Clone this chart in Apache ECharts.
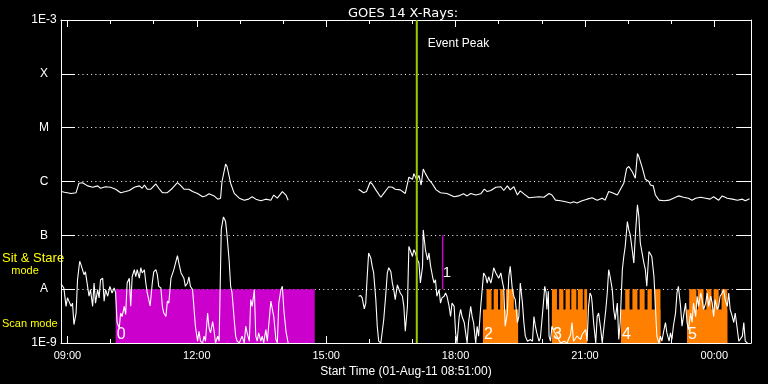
<!DOCTYPE html>
<html><head><meta charset="utf-8">
<script src="https://cdn.jsdelivr.net/npm/echarts@6/dist/echarts.min.js"></script>
<style>html,body{margin:0;padding:0;background:#000;}#c{width:768px;height:384px;}</style>
</head><body><div id="c"></div>
<script>
// ---------- text ----------
const chartTitle = 'GOES 14 X-Rays:';
const xAxisName = 'Start Time (01-Aug-11 08:51:00)';
const modeLabelsTop = ['Sit & Stare', 'mode'];
const modeLabelBottom = 'Scan mode';
const eventPeakLabel = 'Event Peak';

// ---------- axes ----------
const timeRange = ['08:51', '00:51'];
const majorTicks = ['09:00', '12:00', '15:00', '18:00', '21:00', '00:00'];
const minorTicks = ['10:00', '11:00', '13:00', '14:00', '16:00', '17:00', '19:00', '20:00', '22:00', '23:00'];
const yLevels = [1e-9, 1e-8, 1e-7, 1e-6, 1e-5, 1e-4, 1e-3];
const yLabels = ['1E-9', 'A', 'B', 'C', 'M', 'X', '1E-3'];

// ---------- long channel (1-8 A), W/m^2 ----------
const longChannel1 = [["08:51",6.5e-7],["08:56",6.3e-7],["09:05",6.0e-7],["09:12",6.2e-7],["09:16",9.3e-7],["09:21",9.5e-7],["09:28",8.3e-7],["09:35",7.8e-7],["09:42",8.3e-7],["09:46",7.5e-7],["09:53",8.0e-7],["10:00",7.8e-7],["10:07",7.2e-7],["10:14",6.2e-7],["10:21",6.5e-7],["10:26",6.8e-7],["10:33",7.8e-7],["10:40",8.3e-7],["10:44",7.5e-7],["10:47",8.6e-7],["10:51",7.2e-7],["10:56",7.2e-7],["11:03",9.0e-7],["11:07",7.5e-7],["11:12",6.2e-7],["11:19",6.2e-7],["11:26",7.5e-7],["11:33",9.5e-7],["11:38",8.3e-7],["11:42",7.2e-7],["11:49",7.2e-7],["11:54",6.5e-7],["12:01",6.0e-7],["12:08",5.2e-7],["12:12",5.4e-7],["12:17",5.9e-7],["12:24",5.4e-7],["12:29",4.7e-7],["12:33",4.9e-7],["12:35",1.0e-6],["12:40",2.1e-6],["12:42",1.9e-6],["12:47",9.3e-7],["12:52",6.0e-7],["12:59",4.9e-7],["13:06",4.5e-7],["13:12",4.7e-7],["13:17",5.2e-7],["13:22",4.7e-7],["13:29",4.4e-7],["13:36",4.7e-7],["13:43",4.5e-7],["13:47",5.6e-7],["13:52",4.9e-7],["13:59",6.5e-7],["14:04",5.6e-7],["14:07",4.5e-7]];
const longChannel2 = [["15:45",7.2e-7],["15:52",6.2e-7],["15:56",6.5e-7],["16:01",9.7e-7],["16:04",9.0e-7],["16:09",7.0e-7],["16:16",5.1e-7],["16:20",6.0e-7],["16:27",8.0e-7],["16:32",7.8e-7],["16:36",7.2e-7],["16:43",7.0e-7],["16:50",6.0e-7],["16:55",1.2e-6],["17:00",1.1e-6],["17:02",1.4e-6],["17:06",1.07e-6],["17:09",1.3e-6],["17:12",8.6e-7],["17:15",1.7e-6],["17:18",1.4e-6],["17:23",1.07e-6],["17:27",9.3e-7],["17:33",7.0e-7],["17:39",6.2e-7],["17:48",6.0e-7],["17:58",5.2e-7],["18:04",5.4e-7],["18:11",5.9e-7],["18:16",5.4e-7],["18:21",6.0e-7],["18:28",5.6e-7],["18:35",5.9e-7],["18:40",7.2e-7],["18:44",6.5e-7],["18:49",6.8e-7],["18:56",7.8e-7],["19:03",8.0e-7],["19:07",6.8e-7],["19:12",8.3e-7],["19:16",7.0e-7],["19:21",8.0e-7],["19:26",5.6e-7],["19:30",6.7e-7],["19:35",5.9e-7],["19:42",5.0e-7],["19:49",5.1e-7],["19:56",5.2e-7],["20:03",5.1e-7],["20:10",6.0e-7],["20:12",6.5e-7],["20:14",5.6e-7],["20:19",4.5e-7],["20:26",4.4e-7],["20:33",4.2e-7],["20:40",4.0e-7],["20:44",4.2e-7],["20:49",4.0e-7],["20:56",4.4e-7],["21:03",4.7e-7],["21:10",5.0e-7],["21:17",4.5e-7],["21:24",4.9e-7],["21:28",4.5e-7],["21:33",6.5e-7],["21:38",6.2e-7],["21:45",5.6e-7],["21:49",7.0e-7],["21:54",9.3e-7],["21:58",1.75e-6],["22:01",1.9e-6],["22:06",1.5e-6],["22:10",1.15e-6],["22:13",3.3e-6],["22:15",2.9e-6],["22:20",1.75e-6],["22:24",1.1e-6],["22:29",1.0e-6],["22:31",8.6e-7],["22:35",8.3e-7],["22:38",5.6e-7],["22:43",4.5e-7],["22:50",4.4e-7],["22:57",4.5e-7],["23:03",4.9e-7],["23:10",5.4e-7],["23:17",5.1e-7],["23:24",4.9e-7],["23:29",4.5e-7],["23:34",4.9e-7],["23:41",5.1e-7],["23:48",4.9e-7],["23:54",4.7e-7],["23:59",5.2e-7],["00:06",4.5e-7],["00:11",5.4e-7],["00:18",4.9e-7],["00:25",4.7e-7],["00:32",4.5e-7],["00:39",4.7e-7],["00:43",4.4e-7],["00:49",4.8e-7]];

// ---------- short channel (0.5-4 A), W/m^2 ----------
const shortChannel1 = [["08:51",1.26e-8],["08:53",1.16e-8],["08:55",1.05e-8],["08:58",4.8e-9],["09:00",6.9e-9],["09:02",6.0e-9],["09:05",4.8e-9],["09:07",5.5e-9],["09:09",2.2e-9],["09:12",3.6e-9],["09:14",1.5e-8],["09:17",3.3e-8],["09:19",2.8e-8],["09:23",1.86e-8],["09:25",2.1e-8],["09:28",1.13e-8],["09:30",7.4e-9],["09:32",9.8e-9],["09:35",4.8e-9],["09:37",1.3e-8],["09:39",5.5e-9],["09:42",9.8e-9],["09:44",6.9e-9],["09:46",1.5e-8],["09:49",1.6e-8],["09:51",6.0e-9],["09:53",9.8e-9],["09:56",7.4e-9],["09:59",1.13e-8],["10:02",8.5e-9],["10:05",1.05e-8],["10:07",8.5e-9],["10:09",2.4e-9],["10:12",1.9e-9],["10:14",3.6e-9],["10:16",3.1e-9],["10:19",4.8e-9],["10:21",3.4e-9],["10:23",1.3e-8],["10:26",1.6e-8],["10:28",4.8e-9],["10:30",1.7e-8],["10:33",2.3e-8],["10:35",1.7e-8],["10:37",2.3e-8],["10:40",1.6e-8],["10:42",2.5e-8],["10:44",2.0e-8],["10:47",2.3e-8],["10:49",1.3e-8],["10:51",8.5e-9],["10:55",4.9e-9],["10:58",1.3e-8],["11:00",2.1e-8],["11:03",2.3e-8],["11:05",1.86e-8],["11:07",1.13e-8],["11:10",1.05e-8],["11:12",4.8e-9],["11:14",3.6e-9],["11:17",3.1e-9],["11:19",6.0e-9],["11:21",5.5e-9],["11:24",1.6e-8],["11:28",2.3e-8],["11:33",4.2e-8],["11:35",3.05e-8],["11:38",2.0e-8],["11:42",1.6e-8],["11:44",1.13e-8],["11:47",1.3e-8],["11:49",1.7e-8],["11:51",1.13e-8],["11:54",9.8e-9],["11:56",4.5e-9],["11:58",2.05e-9],["12:01",1.08e-9],["12:03",1.65e-9],["12:05",1.08e-9],["12:08",1.0e-9],["12:10",1.34e-9],["12:12",1.08e-9],["12:15",3.6e-9],["12:17",1.9e-9],["12:19",1.54e-9],["12:22",2.5e-9],["12:24",1.65e-9],["12:26",1.0e-9],["12:29",1.34e-9],["12:31",1.08e-9],["12:33",1.0e-9],["12:34",1.3e-7],["12:37",2.2e-7],["12:40",1.8e-7],["12:42",1.0e-7],["12:45",3.3e-8],["12:47",1.13e-8],["12:49",8.5e-9],["12:52",2.7e-9],["12:54",1.34e-9],["12:56",1.08e-9],["12:59",1.0e-9],["13:01",1.16e-9],["13:03",1.34e-9],["13:06",1.0e-9],["13:08",2.05e-9],["13:10",1.54e-9],["13:13",1.08e-9],["13:15",6.4e-9],["13:17",4.8e-9],["13:20",9.8e-9],["13:22",1.34e-9],["13:24",1.08e-9],["13:26",1.54e-9],["13:29",1.08e-9],["13:31",1.34e-9],["13:33",1.0e-9],["13:36",1.78e-9],["13:38",1.08e-9],["13:40",1.0e-9],["13:43",6.0e-9],["13:45",6.4e-9],["13:47",3.1e-9],["13:50",1.16e-9],["13:52",1.0e-9],["13:54",5.5e-9],["13:57",9.8e-9],["13:59",1.13e-8],["14:01",4.2e-9],["14:04",1.65e-9],["14:06",1.78e-9],["14:07",1.0e-9]];
const shortChannel2 = [["15:45",7.4e-9],["15:48",7.6e-9],["15:50",6.9e-9],["15:51",6.4e-9],["15:53",4.3e-9],["15:55",5.5e-9],["15:57",1.7e-8],["15:59",4.7e-8],["16:02",3.8e-8],["16:04",2.65e-8],["16:06",2.0e-8],["16:09",6.4e-9],["16:11",2.05e-9],["16:13",1.08e-9],["16:16",1.0e-9],["16:18",1.08e-9],["16:20",2.7e-9],["16:23",8.5e-9],["16:25",2.0e-8],["16:27",2.5e-8],["16:30",2.1e-8],["16:32",1.3e-8],["16:34",9.8e-9],["16:36",6.4e-9],["16:39",1.2e-8],["16:41",1.3e-8],["16:43",8.5e-9],["16:46",7.4e-9],["16:48",4.8e-9],["16:50",1.65e-9],["16:53",4.8e-9],["16:55",6.2e-8],["16:57",6.7e-8],["17:00",4.05e-8],["17:02",5.4e-8],["17:04",4.7e-8],["17:07",3.5e-8],["17:09",3.05e-8],["17:11",1.3e-8],["17:14",2.65e-8],["17:15",1.26e-7],["17:17",7.2e-8],["17:18",5.4e-8],["17:21",3.5e-8],["17:23",4.7e-8],["17:25",2.8e-8],["17:28",1.7e-8],["17:30",1.3e-8],["17:32",1.5e-8],["17:34",7.4e-9],["17:37",9.8e-9],["17:39",5.5e-9],["17:41",6.9e-9],["17:44",7.4e-9],["17:46",8.5e-9],["17:48",7.4e-9],["17:51",4.8e-9],["17:53",3.1e-9],["17:55",5.5e-9],["17:58",4.8e-9],["18:00",1.54e-9],["18:02",1.0e-9],["18:05",3.1e-9],["18:07",4.2e-9],["18:09",3.1e-9],["18:12",2.4e-9],["18:14",1.54e-9],["18:16",1.0e-9],["18:18",2.4e-9],["18:21",4.8e-9],["18:23",3.1e-9],["18:25",2.4e-9],["18:28",1.0e-9],["18:30",2.05e-9],["18:32",1.34e-9],["18:35",4.8e-9],["18:37",9.8e-9],["18:39",2.0e-8],["18:42",1.7e-8],["18:44",1.3e-8],["18:46",1.7e-8],["18:49",1.3e-8],["18:51",1.7e-8],["18:53",2.5e-8],["18:56",2.0e-8],["18:58",1.86e-8],["19:00",1.6e-8],["19:03",2.0e-8],["19:05",1.4e-8],["19:07",1.05e-8],["19:09",2.05e-9],["19:12",3.6e-9],["19:14",1.7e-8],["19:16",2.65e-8],["19:19",9.8e-9],["19:21",7.4e-9],["19:23",6.4e-9],["19:26",2.4e-9],["19:28",3.1e-9],["19:30",1.3e-8],["19:33",5.5e-9],["19:35",2.4e-9],["19:37",1.34e-9],["19:40",1.08e-9],["19:42",1.0e-9],["19:44",1.16e-9],["19:47",1.08e-9],["19:49",3.1e-9],["19:51",2.05e-9],["19:53",1.54e-9],["19:56",1.08e-9],["19:58",1.25e-9],["20:00",1.16e-9],["20:03",7.4e-9],["20:04",1.13e-8],["20:06",8.5e-9],["20:07",4.2e-9],["20:09",9.1e-9],["20:10",1.34e-9],["20:12",1.08e-9],["20:14",2.05e-9],["20:17",1.65e-9],["20:21",1.34e-9],["20:26",1.0e-9],["20:31",1.08e-9],["20:35",1.0e-9],["20:40",1.44e-9],["20:42",2.4e-9],["20:44",1.08e-9],["20:49",1.34e-9],["20:54",1.16e-9],["20:56",1.44e-9],["20:58",1.34e-9],["21:01",1.78e-9],["21:03",1.08e-9],["21:05",4.8e-9],["21:07",8.5e-9],["21:09",7.4e-9],["21:10",5.5e-9],["21:12",2.4e-9],["21:15",1.0e-9],["21:17",3.1e-9],["21:19",3.6e-9],["21:22",1.78e-9],["21:24",1.0e-9],["21:26",1.08e-9],["21:29",4.2e-9],["21:31",8.5e-9],["21:33",2.3e-8],["21:35",1.7e-8],["21:38",9.8e-9],["21:40",4.2e-9],["21:42",2.7e-9],["21:45",5.5e-9],["21:47",1.16e-9],["21:49",2.4e-9],["21:52",2.3e-8],["21:54",4.05e-8],["21:56",6.2e-8],["21:59",1.8e-7],["22:01",1.26e-7],["22:03",1.02e-7],["22:06",5.0e-8],["22:08",3.05e-8],["22:10",9.5e-8],["22:13",3.7e-7],["22:15",2.2e-7],["22:17",7.2e-8],["22:22",3.05e-8],["22:24",2.3e-8],["22:26",1.13e-8],["22:29",5.0e-8],["22:31",5.4e-8],["22:33",4.05e-8],["22:36",1.7e-8],["22:38",4.8e-9],["22:40",1.34e-9],["22:43",1.0e-9],["22:45",1.34e-9],["22:47",1.08e-9],["22:50",1.78e-9],["22:52",2.4e-9],["22:54",1.54e-9],["22:57",1.08e-9],["22:59",1.54e-9],["23:01",1.16e-9],["23:03",2.05e-9],["23:06",3.6e-9],["23:08",8.5e-9],["23:10",1.13e-8],["23:13",4.8e-9],["23:15",2.05e-9],["23:17",3.1e-9],["23:20",5.5e-9],["23:22",2.4e-9],["23:24",1.78e-9],["23:27",3.6e-9],["23:29",2.4e-9],["23:31",5.5e-9],["23:34",3.1e-9],["23:36",7.4e-9],["23:38",4.8e-9],["23:41",8.5e-9],["23:43",6.4e-9],["23:45",4.2e-9],["23:48",5.5e-9],["23:50",8.5e-9],["23:52",4.8e-9],["23:55",7.4e-9],["23:57",5.5e-9],["23:59",3.1e-9],["00:01",6.4e-9],["00:04",4.2e-9],["00:06",4.8e-9],["00:08",7.4e-9],["00:11",8.5e-9],["00:13",9.8e-9],["00:15",6.4e-9],["00:18",4.8e-9],["00:20",8.5e-9],["00:22",4.2e-9],["00:25",3.1e-9],["00:27",2.4e-9],["00:29",3.6e-9],["00:32",1.78e-9],["00:34",1.08e-9],["00:36",1.0e-9],["00:39",1.34e-9],["00:41",2.4e-9],["00:43",1.08e-9],["00:46",1.0e-9]];

// ---------- observing modes ----------
const stareLevel = 1e-8;      // sit & stare bar height
const scanLevel = 4.2e-9;     // scan bar height
const magentaPeriods = [["10:07", "14:44"]];
const scanPeriods = [["18:38", "19:27"], ["20:14", "21:03"], ["21:50", "22:45"], ["23:22", "00:18"]];
const starePeriods = [["18:43","18:50"],["18:53","18:59"],["19:02","19:07"],["19:10","19:21"],
  ["20:14","20:21"],["20:24","20:30"],["20:33","20:39"],["20:41","20:48"],["20:50","20:57"],["20:59","21:03"],
  ["21:56","22:02"],["22:06","22:13"],["22:16","22:23"],["22:27","22:33"],["22:37","22:45"],
  ["23:25","23:35"],["23:37","23:45"],["23:49","23:56"],["23:59","00:06"],["00:10","00:18"]];
const periodLabelTimes = ["10:07", "18:38", "20:14", "21:50", "23:22"];
const periodLabelTexts = ["0", "2", "3", "4", "5"];

// ---------- events ----------
const eventPeakTime = "17:06";
const flareMarker = { time: "17:42", from: 1e-7, to: 1e-8, label: "1" };

// ---------- build ----------
const toH = s => { const [h, m] = s.split(':').map(Number); return (h < 8 ? h + 24 : h) + m / 60; };
const fmtH = v => { const t = Math.round(v * 60); const h = Math.floor(t / 60) % 24, m = t % 60; return String(h).padStart(2, '0') + ':' + String(m).padStart(2, '0'); };
const pts = arr => arr.map(([t, v]) => [toH(t), v]);
const Y_MIN = yLevels[0], Y_MAX = yLevels[yLevels.length - 1];
const X_MIN = toH(timeRange[0]), X_MAX = toH(timeRange[1]);
const FONT = 'Liberation Sans';
const WHITE = '#ffffff';

function blockRender(color) {
  return function (params, api) {
    const a = api.coord([api.value(0), Y_MIN]);
    const b = api.coord([api.value(1), api.value(2)]);
    return { type: 'rect', shape: { x: a[0], y: b[1], width: b[0] - a[0], height: a[1] - b[1] }, style: { fill: color } };
  };
}
const blockSeries = (name, periods, level, color) => ({
  type: 'custom', name, z: 1, silent: true,
  dimensions: ['start', 'end', 'top'], encode: { x: [0, 1], y: 2 },
  data: periods.map(([s, e]) => [toH(s), toH(e), level]),
  renderItem: blockRender(color)
});

const xCommon = { type: 'value', min: X_MIN, max: X_MAX, splitLine: { show: false } };
const xAxes = [
  Object.assign({}, xCommon, {
    position: 'bottom', name: xAxisName, nameLocation: 'middle', nameGap: 23,
    nameTextStyle: { color: WHITE, fontFamily: FONT, fontSize: 12 },
    axisLine: { show: true, onZero: false, lineStyle: { color: WHITE, width: 1 } },
    axisTick: { show: true, inside: true, length: 7, customValues: majorTicks.map(toH), lineStyle: { color: WHITE } },
    axisLabel: { show: true, customValues: majorTicks.map(toH), formatter: fmtH, color: WHITE, fontFamily: FONT, fontSize: 11, margin: 7 }
  }),
  Object.assign({}, xCommon, {
    position: 'bottom', axisLine: { show: false, onZero: false },
    axisTick: { show: true, inside: true, length: 4, customValues: minorTicks.map(toH), lineStyle: { color: WHITE } },
    axisLabel: { show: false }
  }),
  Object.assign({}, xCommon, {
    position: 'top', axisLine: { show: true, onZero: false, lineStyle: { color: WHITE, width: 1 } },
    axisTick: { show: true, inside: true, length: 7, customValues: majorTicks.map(toH), lineStyle: { color: WHITE } },
    axisLabel: { show: false }
  }),
  Object.assign({}, xCommon, {
    position: 'top', axisLine: { show: false, onZero: false },
    axisTick: { show: true, inside: true, length: 4, customValues: minorTicks.map(toH), lineStyle: { color: WHITE } },
    axisLabel: { show: false }
  })
];

const yLabelFor = v => { const e = Math.round(Math.log10(v)); const i = yLevels.findIndex(l => Math.round(Math.log10(l)) === e); return i >= 0 ? yLabels[i] : ''; };
const yCommon = { type: 'log', logBase: 10, min: Y_MIN, max: Y_MAX, splitNumber: 6 };
const yAxes = [
  Object.assign({}, yCommon, {
    position: 'left',
    axisLine: { show: true, onZero: false, lineStyle: { color: WHITE, width: 1 } },
    axisTick: { show: true, inside: true, length: 14, lineStyle: { color: WHITE } },
    axisLabel: { show: true, formatter: yLabelFor, color: WHITE, fontFamily: FONT, fontSize: 12, margin: 17, align: 'center',
      verticalAlign: 'middle', verticalAlignMinLabel: 'middle', verticalAlignMaxLabel: 'middle', padding: [3, 0, 0, 0] },
    splitLine: { show: true, lineStyle: { color: WHITE, width: 1, type: [1, 3.3] } }
  }),
  Object.assign({}, yCommon, {
    position: 'right',
    axisLine: { show: true, onZero: false, lineStyle: { color: WHITE, width: 1 } },
    axisTick: { show: true, inside: true, length: 14, lineStyle: { color: WHITE } },
    axisLabel: { show: false }, splitLine: { show: false }
  })
];

const lineSeries = (name, arr) => ({
  type: 'line', name, data: pts(arr), showSymbol: false, symbol: 'none', z: 2, silent: true,
  lineStyle: { color: WHITE, width: 1.1 }, clip: true
});

const yellowFont = size => size + 'px "Liberation Sans"';
const option = {
  backgroundColor: '#000000',
  animation: false,
  title: { text: chartTitle, left: 398, top: 2, textAlign: 'center', textStyle: { color: WHITE, fontFamily: 'DejaVu Sans', fontSize: 13, fontWeight: 'normal' } },
  grid: { left: 61, right: 17, top: 20, bottom: 41, containLabel: false },
  xAxis: xAxes,
  yAxis: yAxes,
  graphic: [
    { type: 'text', x: 2, y: 258, style: { text: modeLabelsTop[0], fill: '#ffff00', font: yellowFont(13), align: 'left', verticalAlign: 'middle' } },
    { type: 'text', x: 25, y: 271, style: { text: modeLabelsTop[1], fill: '#ffff00', font: yellowFont(11), align: 'center', verticalAlign: 'middle' } },
    { type: 'text', x: 2, y: 323.5, style: { text: modeLabelBottom, fill: '#ffff00', font: yellowFont(11), align: 'left', verticalAlign: 'middle' } }
  ],
  series: [
    blockSeries('sit-stare-0', magentaPeriods, stareLevel, '#cc00cc'),
    blockSeries('scan', scanPeriods, scanLevel, '#ff8000'),
    blockSeries('stare', starePeriods, stareLevel, '#ff8000'),
    lineSeries('long1', longChannel1),
    lineSeries('long2', longChannel2),
    lineSeries('short1', shortChannel1),
    lineSeries('short2', shortChannel2),
    {
      type: 'custom', name: 'period labels', z: 3, silent: true,
      dimensions: ['t'], encode: { x: 0 },
      data: periodLabelTimes.map(t => [toH(t)]),
      renderItem: (params, api) => {
        const p = api.coord([api.value(0), Y_MIN]);
        return { type: 'text', style: { text: periodLabelTexts[params.dataIndex], x: p[0] + 1, y: p[1] - 8.5, fill: WHITE, font: '16px "Liberation Sans"', align: 'left', verticalAlign: 'middle' } };
      }
    },
    {
      type: 'custom', name: 'flare marker', z: 3, silent: true,
      dimensions: ['t', 'from', 'to'], encode: { x: 0, y: [1, 2] },
      data: [[toH(flareMarker.time), flareMarker.from, flareMarker.to]],
      renderItem: (params, api) => {
        const a = api.coord([api.value(0), api.value(1)]);
        const b = api.coord([api.value(0), api.value(2)]);
        return { type: 'group', children: [
          { type: 'line', shape: { x1: a[0], y1: a[1], x2: b[0], y2: b[1] }, style: { stroke: '#cc00cc', lineWidth: 1.5 } },
          { type: 'text', style: { text: flareMarker.label, x: a[0], y: b[1] - 16.5, fill: WHITE, font: '15px "Liberation Sans"', align: 'left', verticalAlign: 'middle' } }
        ] };
      }
    },
    {
      type: 'custom', name: 'event peak', z: 4, silent: true,
      dimensions: ['t'], encode: { x: 0 },
      data: [[toH(eventPeakTime)]],
      renderItem: (params, api) => {
        const a = api.coord([api.value(0), Y_MIN]);
        const b = api.coord([api.value(0), Y_MAX]);
        return { type: 'group', children: [
          { type: 'line', shape: { x1: a[0], y1: a[1], x2: b[0], y2: b[1] }, style: { stroke: '#99cc00', lineWidth: 2 } },
          { type: 'text', style: { text: eventPeakLabel, x: b[0] + 11, y: b[1] + 23.5, fill: WHITE, font: '12px "Liberation Sans"', align: 'left', verticalAlign: 'middle' } }
        ] };
      }
    }
  ]
};

const chart = echarts.init(document.getElementById('c'), null, { renderer: 'canvas' });
chart.setOption(option);
</script>
</body></html>
